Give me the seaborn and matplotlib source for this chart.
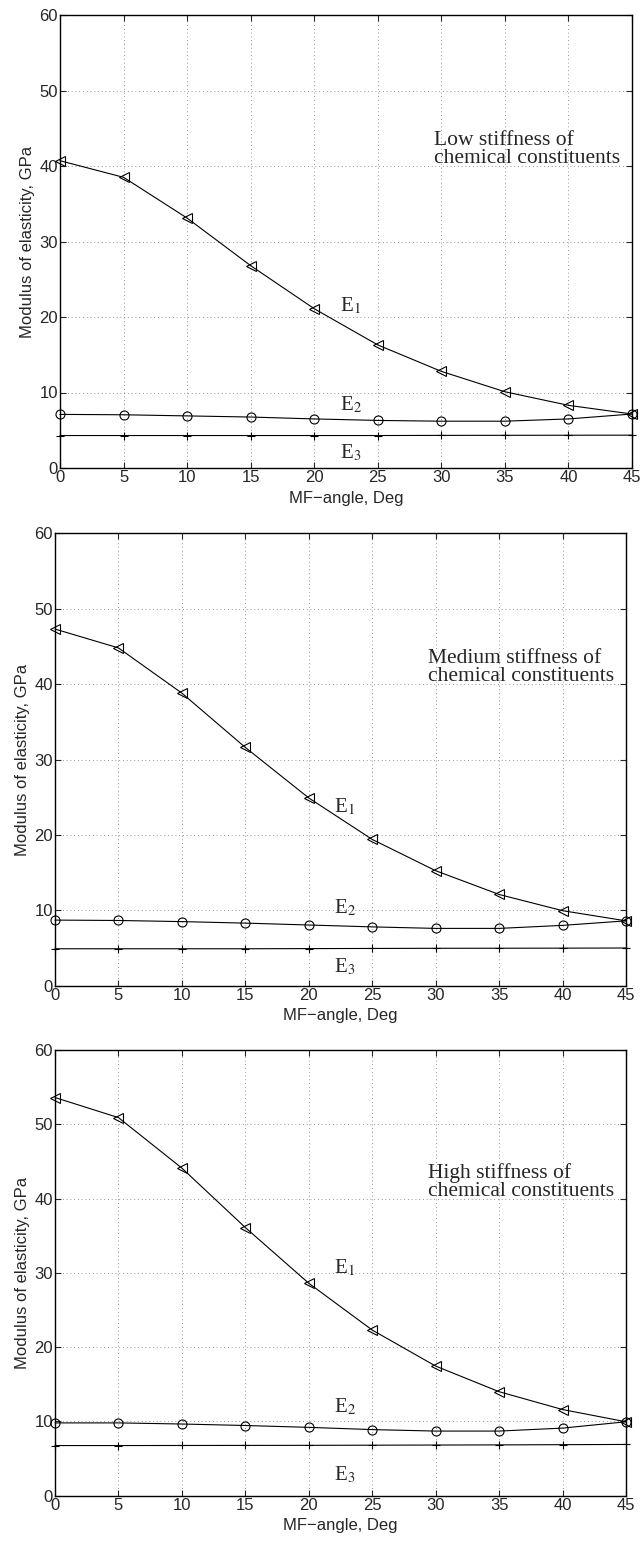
import numpy as np
import pandas as pd
import matplotlib
matplotlib.use("Agg")
import matplotlib.pyplot as plt
import seaborn as sns

sns.set_style("ticks")
plt.rcParams['font.family'] = ['Liberation Sans', 'DejaVu Sans']
plt.rcParams['mathtext.fontset'] = 'stix'
plt.rcParams['xtick.direction'] = 'in'
plt.rcParams['ytick.direction'] = 'in'

angles = [0, 5, 10, 15, 20, 25, 30, 35, 40, 45]

e1_low = [40.7, 38.5, 33.1, 26.8, 21.1, 16.3, 12.8, 10.1, 8.3, 7.15]
e2_low = [7.1, 7.05, 6.9, 6.75, 6.5, 6.3, 6.2, 6.2, 6.5, 7.15]
e3_low = [4.3, 4.3, 4.3, 4.3, 4.3, 4.3, 4.32, 4.33, 4.34, 4.35]

e1_med = [47.3, 44.8, 38.8, 31.6, 24.9, 19.4, 15.25, 12.1, 9.95, 8.6]
e2_med = [8.7, 8.65, 8.5, 8.3, 8.05, 7.8, 7.6, 7.6, 8.0, 8.6]
e3_med = [4.9, 4.9, 4.9, 4.9, 4.92, 4.94, 4.96, 4.97, 4.98, 5.0]

e1_high = [53.6, 50.9, 44.1, 36.1, 28.6, 22.3, 17.45, 14.0, 11.6, 9.95]
e2_high = [9.8, 9.8, 9.65, 9.45, 9.2, 8.9, 8.7, 8.7, 9.1, 9.95]
e3_high = [6.75, 6.75, 6.76, 6.77, 6.78, 6.8, 6.82, 6.84, 6.87, 6.9]

panel_titles = ["Low stiffness of\nchemical constituents",
                "Medium stiffness of\nchemical constituents",
                "High stiffness of\nchemical constituents"]
xticks = [0, 5, 10, 15, 20, 25, 30, 35, 40, 45]
yticks = [0, 10, 20, 30, 40, 50, 60]
xlabel = "MF\u2212angle, Deg"
ylabel = "Modulus of elasticity, GPa"

# label positions (data coords): E1, E2, E3 y-values
label_y = [(21.5, 8.3, 2.0), (23.7, 10.3, 2.5), (30.6, 12.0, 2.8)]

panels = [(e1_low, e2_low, e3_low), (e1_med, e2_med, e3_med), (e1_high, e2_high, e3_high)]
rects = [[60/642, 1-468/1550, 572/642, 453/1550],
         [55/642, 1-985.7/1550, 571/642, 452.4/1550],
         [55/642, 1-1495.7/1550, 571/642, 445.7/1550]]

fig = plt.figure(figsize=(6.42, 15.5), dpi=100)
serif_fam = ["Liberation Serif", "DejaVu Serif"]

for i, (e1, e2, e3) in enumerate(panels):
    ax = fig.add_axes(rects[i])
    df = pd.DataFrame({"angle": angles, "E1": e1, "E2": e2, "E3": e3})
    sns.lineplot(data=df, x="angle", y="E1", ax=ax, color="black", lw=0.8,
                 marker="<", markersize=7.5, markerfacecolor="none",
                 markeredgecolor="black", markeredgewidth=0.8, clip_on=False)
    sns.lineplot(data=df, x="angle", y="E2", ax=ax, color="black", lw=0.8,
                 marker="o", markersize=6.5, markerfacecolor="none",
                 markeredgecolor="black", markeredgewidth=0.8, clip_on=False)
    sns.lineplot(data=df, x="angle", y="E3", ax=ax, color="black", lw=0.8,
                 marker="+", markersize=6, markeredgecolor="black",
                 markeredgewidth=0.8, clip_on=False)
    ax.set_xlim(0, 45)
    ax.set_ylim(0, 60)
    ax.set_xticks(xticks)
    ax.set_yticks(yticks)
    ax.grid(True, linestyle=(0, (1, 3.5)), color="black", lw=0.6, alpha=0.55)
    ax.tick_params(axis="both", which="both", top=True, right=True,
                   labelsize=12, length=4, width=0.8, pad=1.5)
    for s in ax.spines.values():
        s.set_linewidth(1.0)
        s.set_color("black")
    ax.set_xlabel(xlabel, fontsize=12, labelpad=4)
    ax.set_ylabel(ylabel, fontsize=12, labelpad=3)
    ly = label_y[i]
    serif = dict(fontsize=15, family=serif_fam, ha="left", va="center")
    ax.text(22.0, ly[0], r"E$_1$", **serif)
    ax.text(22.0, ly[1], r"E$_2$", **serif)
    ax.text(22.0, ly[2], r"E$_3$", **serif)
    ax.text(29.4, 42.2, panel_titles[i], fontsize=15.5,
            family=serif_fam, ha="left", va="center", linespacing=0.92)

fig.savefig("out.png", dpi=100)
